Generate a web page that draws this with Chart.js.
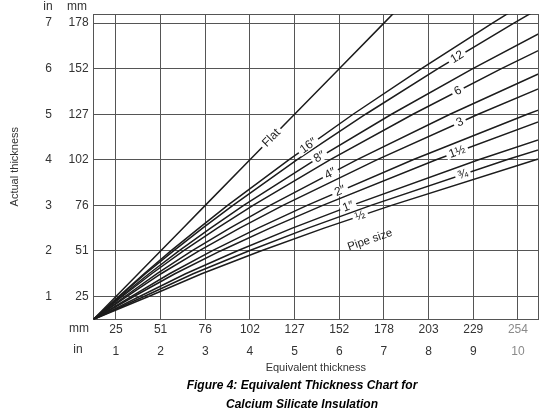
<!DOCTYPE html>
<html>
<head>
<meta charset="utf-8">
<script src="https://cdn.jsdelivr.net/npm/chart.js@4.4.0/dist/chart.umd.min.js"></script>
<style>
body { margin: 0; background: #fff; }
#wrap { width: 555px; height: 418px; }
</style>
</head>
<body>
<div id="wrap"><canvas id="chart" width="555" height="418"></canvas></div>
<script>
'use strict'
// actual thickness (in), shared by every curve
const actualIn = [0.5, 1, 1.5, 2, 2.5, 3, 4, 5, 6, 7, 7.5];
// equivalent thickness (in) for each pipe size, same order as actualIn
const eqFlat = [0.5, 1, 1.5, 2, 2.5, 3, 4, 5, 6, 7, 7.5];
const eqSixteen = [0.5, 1.06, 1.63, 2.23, 2.86, 3.50, 4.87, 6.31, 7.84, 9.43, 10.25];
const eqTwelve = [0.5, 1.08, 1.66, 2.29, 2.94, 3.62, 5.05, 6.59, 8.21, 9.91, 10.79];
const eqEight = [0.5, 1.11, 1.74, 2.41, 3.12, 3.86, 5.46, 7.17, 8.99, 10.91];
const eqSix = [0.5, 1.14, 1.80, 2.51, 3.27, 4.07, 5.79, 7.65, 9.63, 11.71];
const eqFour = [0.5, 1.20, 1.92, 2.70, 3.55, 4.45, 6.39, 8.48, 10.72];
const eqThree = [0.5, 1.24, 2.01, 2.86, 3.77, 4.74, 6.84, 9.11, 11.53];
const eqTwo = [0.5, 1.34, 2.20, 3.15, 4.18, 5.28, 7.65, 10.21, 12.94];
const eqOneHalf = [0.5, 1.40, 2.32, 3.34, 4.45, 5.63, 8.17, 10.92];
const eqOne = [0.5, 1.53, 2.56, 3.71, 4.95, 6.28, 9.12, 12.18];
const eqThreeQ = [0.5, 1.63, 2.73, 3.97, 5.30, 6.71, 9.75, 13.00];
const eqHalf = [0.5, 1.73, 2.92, 4.24, 5.66, 7.17, 10.40, 13.86];

const seriesNames = ['Flat', '16″', '12', '8″', '6', '4″', '3', '2″', '1½', '1″', '¾', '½'];
const seriesEq = [eqFlat, eqSixteen, eqTwelve, eqEight, eqSix, eqFour, eqThree, eqTwo, eqOneHalf, eqOne, eqThreeQ, eqHalf];

// tick labels
const xMm = ['25', '51', '76', '102', '127', '152', '178', '203', '229', '254'];
const xInch = ['1', '2', '3', '4', '5', '6', '7', '8', '9', '10'];
const yMm = ['25', '51', '76', '102', '127', '152', '178'];
const yInch = ['1', '2', '3', '4', '5', '6', '7'];

// labels written on the curves: text, curve index, equivalent thickness where it sits
const curveLabelText = ['Flat', '16″', '8″', '4″', '2″', '1″', '½', '12', '6', '3', '1½', '¾'];
const curveLabelSeries = [0, 1, 3, 5, 7, 9, 11, 2, 4, 6, 8, 10];
const curveLabelAt = [4.48, 5.31, 5.56, 5.80, 6.02, 6.20, 6.47, 8.64, 8.66, 8.70, 8.64, 8.77];

const captionLines = ['Figure 4: Equivalent Thickness Chart for', 'Calcium Silicate Insulation'];

const FONT = '"Liberation Sans", Arial, sans-serif';
const lineColor = '#1c1c1c';
const gridColor = '#555';

//==================================================================================================

const datasets = seriesEq.map((eq, i) => ({
    label: seriesNames[i],
    data: eq.map((v, k) => ({ x: v, y: actualIn[k] })),
    showLine: true,
    borderColor: lineColor,
    borderWidth: 1.5,
    pointRadius: 0,
    fill: false
}));

// whole inch ticks only
function inchTicks(scale){
    const t = [];
    for(let v = 1; v <= Math.floor(scale.max); v++) t.push({ value: v });
    scale.ticks = t;
}

// find pixel point and angle of a curve at a given x value
function pointOnCurve(chart, series, xVal){
    const pts = chart.getDatasetMeta(series).data;
    const px = chart.scales.x.getPixelForValue(xVal);
    for(let k = 1; k < pts.length; k++){
        const a = pts[k - 1], b = pts[k];
        if(px >= a.x && px <= b.x){
            const f = (px - a.x) / (b.x - a.x);
            return { x: px, y: a.y + f * (b.y - a.y), ang: Math.atan2(b.y - a.y, b.x - a.x) };
        }
    }
    return null;
}

function drawTag(ctx, txt, p, gap){
    ctx.save();
    ctx.translate(p.x, p.y);
    ctx.rotate(p.ang);
    const w = ctx.measureText(txt).width;
    if(gap){
        ctx.fillStyle = '#fff';
        ctx.fillRect(-w / 2 - 3, -4.5, w + 6, 9);
    }
    ctx.fillStyle = '#222';
    ctx.fillText(txt, 0, 0);
    ctx.restore();
}

const curveLabels = {
    id: 'curveLabels',
    afterDatasetsDraw(chart){
        const ctx = chart.ctx;
        ctx.save();
        ctx.font = '12px ' + FONT;
        ctx.textAlign = 'center';
        ctx.textBaseline = 'middle';
        curveLabelText.forEach((txt, i) => {
            const p = pointOnCurve(chart, curveLabelSeries[i], curveLabelAt[i]);
            if(p) drawTag(ctx, txt, p, true);
        });
        // "Pipe size" note under the 1/2 curve
        const ref = pointOnCurve(chart, 11, 6.69);
        if(ref){
            ctx.font = '11.5px ' + FONT;
            drawTag(ctx, 'Pipe size', {
                x: ref.x,
                y: chart.scales.y.getPixelForValue(2.24),
                ang: ref.ang
            }, false);
        }
        ctx.restore();
    }
};

const captions = {
    id: 'captions',
    afterDraw(chart){
        const ctx = chart.ctx;
        ctx.save();
        ctx.textAlign = 'center';
        ctx.textBaseline = 'middle';
        ctx.fillStyle = '#333';
        ctx.font = '12px ' + FONT;
        // unit headers
        ctx.fillText('in', 48, 7);
        ctx.fillText('mm', 77, 7);
        ctx.fillText('mm', 79, 329);
        ctx.fillText('in', 78, 350);
        ctx.fillStyle = '#000';
        ctx.font = 'italic bold 12px ' + FONT;
        ctx.fillText(captionLines[0], 302, 386);
        ctx.fillText(captionLines[1], 302, 405);
        ctx.restore();
    }
};

const tickColor = (c) => c.index === 9 ? '#8a8a8a' : '#333';
// frame-only axes for the top and right edges
const frameAxis = (pos) => ({
    type: 'linear',
    position: pos,
    min: 0.5,
    max: pos === 'top' ? 10.45 : 7.2,
    grid: { display: false, drawTicks: false },
    border: { display: true, color: gridColor, width: 1 },
    ticks: { display: false }
});

new Chart(document.getElementById('chart'), {
    type: 'scatter',
    data: { datasets: datasets },
    options: {
        responsive: false,
        animation: false,
        layout: { padding: { left: 8.5, right: 17, top: 14, bottom: 43.4 } },
        plugins: {
            legend: { display: false },
            tooltip: { enabled: false }
        },
        scales: {
            x: {
                type: 'linear',
                position: 'bottom',
                min: 0.5,
                max: 10.45,
                weight: 0,
                afterBuildTicks: inchTicks,
                grid: { color: gridColor, lineWidth: 1, drawTicks: false },
                border: { display: true, color: gridColor, width: 1 },
                ticks: {
                    autoSkip: false, maxRotation: 0, padding: 3,
                    color: tickColor,
                    font: { family: FONT, size: 12 },
                    callback: (v, i) => xMm[i] || ''
                }
            },
            xIn: {
                type: 'linear',
                position: 'bottom',
                min: 0.5,
                max: 10.45,
                weight: 1,
                afterBuildTicks: inchTicks,
                grid: { display: false, drawTicks: false },
                border: { display: false },
                ticks: {
                    autoSkip: false, maxRotation: 0, padding: 5.1,
                    color: tickColor,
                    font: { family: FONT, size: 12 },
                    callback: (v, i) => xInch[i] || ''
                },
                title: {
                    display: true,
                    text: 'Equivalent thickness',
                    color: '#333',
                    font: { family: FONT, size: 11 },
                    padding: { top: -2.9, bottom: 0 }
                }
            },
            xTop: frameAxis('top'),
            y: {
                type: 'linear',
                position: 'left',
                min: 0.5,
                max: 7.2,
                weight: 0,
                afterBuildTicks: inchTicks,
                // extra width keeps the inch column clear of the mm column
                afterFit: (scale) => { scale.width += 9.7; },
                grid: { color: gridColor, lineWidth: 1, drawTicks: false },
                border: { display: true, color: gridColor, width: 1 },
                ticks: {
                    autoSkip: false, padding: 5,
                    color: '#333',
                    font: { family: FONT, size: 12 },
                    callback: (v, i) => yMm[i] || ''
                }
            },
            yIn: {
                type: 'linear',
                position: 'left',
                min: 0.5,
                max: 7.2,
                weight: 1,
                afterBuildTicks: inchTicks,
                grid: { display: false, drawTicks: false },
                border: { display: false },
                ticks: {
                    autoSkip: false, padding: 2,
                    color: '#333',
                    font: { family: FONT, size: 12 },
                    callback: (v, i) => yInch[i] || ''
                },
                title: {
                    display: true,
                    text: 'Actual thickness',
                    color: '#333',
                    font: { family: FONT, size: 11 },
                    padding: { top: 0, bottom: 21.5 }
                }
            },
            yRight: frameAxis('right')
        }
    },
    plugins: [curveLabels, captions]
});
</script>
</body>
</html>
